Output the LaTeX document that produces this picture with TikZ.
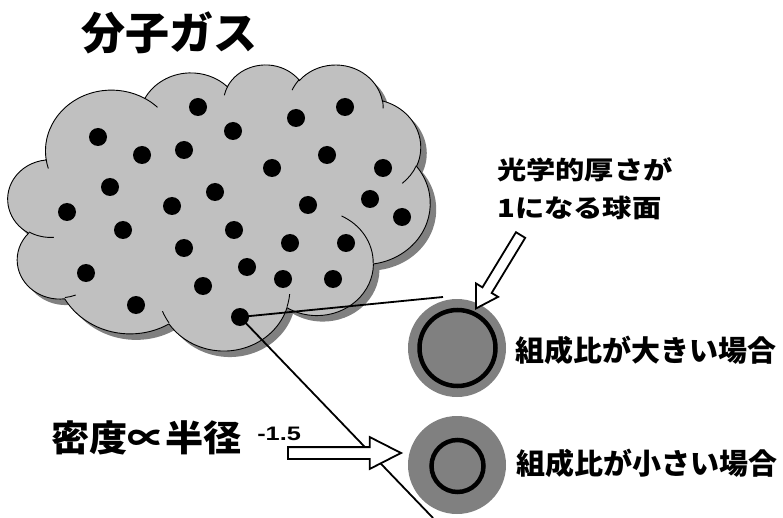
\documentclass[tikz,border=0pt]{standalone}
\usepackage{fontspec}
\usetikzlibrary{shapes.arrows}
\newfontfamily\jpfont{Noto Sans CJK JP}
\newfontfamily\latinfont{Liberation Sans}
\definecolor{cloudgray}{RGB}{192,192,192}
\definecolor{shadegray}{RGB}{128,128,128}
\definecolor{spheregray}{RGB}{128,128,128}

% Elliptic arcs of the cloud outline: from the radii and the visual start
% angle and sweep, store the parametric start angle and sweep.
\newcommand\cloudarcset[5]{%
  \pgfmathsetmacro\cloudtmpa{atan2((#2)*sin(#4),(#3)*cos(#4))}%
  \pgfmathsetmacro\cloudtmpb{atan2((#2)*sin((#4)+(#5)),(#3)*cos((#4)+(#5)))}%
  \pgfmathsetmacro\cloudtmpd{mod(\cloudtmpb-\cloudtmpa+720,360)}%
  \expandafter\let\csname cloudS#1\endcsname\cloudtmpa
  \expandafter\let\csname cloudD#1\endcsname\cloudtmpd
}
% outline bumps
\cloudarcset{a}{67.53}{91.90}{-190.4875}{123.7805}
\cloudarcset{b}{53.33}{72.67}{-144.1024}{89.9452}
\cloudarcset{c}{43.65}{59.45}{-145.8079}{99.7230}
\cloudarcset{d}{48.57}{65.95}{-130.9861}{117.2417}
\cloudarcset{e}{53.33}{72.73}{-78.7089}{109.0269}
\cloudarcset{f}{67.75}{92.20}{-46.2673}{130.2690}
\cloudarcset{g}{57.85}{78.67}{0.6250}{114.0333}
\cloudarcset{h}{67.52}{92.15}{22.4516}{115.1726}
\cloudarcset{i}{77.20}{105.43}{66.2426}{75.7110}
\cloudarcset{j}{43.60}{59.18}{-274.9421}{146.7356}
\cloudarcset{k}{43.45}{59.45}{-246.8285}{152.5170}
% inner creases
\cloudarcset{ia}{43.45}{59.45}{86.7420}{26.4295}
\cloudarcset{ib}{43.60}{59.18}{73.6105}{11.4475}
\cloudarcset{ic}{67.52}{92.15}{137.6242}{14.0811}
\cloudarcset{id}{67.52}{92.15}{6.4533}{15.9984}
\cloudarcset{ie}{57.85}{78.67}{-70.2924}{70.9174}
\cloudarcset{if}{53.33}{72.73}{30.3180}{27.7515}
\cloudarcset{ig}{48.57}{65.95}{-13.7443}{14.8589}
\cloudarcset{ih}{48.57}{65.95}{-149.1815}{18.1954}
\cloudarcset{ii}{43.65}{59.45}{-163.4943}{17.6864}
\cloudarcset{ij}{67.53}{91.90}{-66.7070}{12.3194}
\cloudarcset{ik}{67.53}{91.90}{157.6544}{11.8582}

\tikzset{
  cloud path/.style={insert path={(39.00,143.70)
    arc[start angle=\cloudSa,delta angle=\cloudDa,x radius=67.53,y radius=91.90]
    arc[start angle=\cloudSb,delta angle=\cloudDb,x radius=53.33,y radius=72.67]
    arc[start angle=\cloudSc,delta angle=\cloudDc,x radius=43.65,y radius=59.45]
    arc[start angle=\cloudSd,delta angle=\cloudDd,x radius=48.57,y radius=65.95]
    arc[start angle=\cloudSe,delta angle=\cloudDe,x radius=53.33,y radius=72.73]
    arc[start angle=\cloudSf,delta angle=\cloudDf,x radius=67.75,y radius=92.20]
    arc[start angle=\cloudSg,delta angle=\cloudDg,x radius=57.85,y radius=78.67]
    arc[start angle=\cloudSh,delta angle=\cloudDh,x radius=67.52,y radius=92.15]
    arc[start angle=\cloudSi,delta angle=\cloudDi,x radius=77.20,y radius=105.43]
    arc[start angle=\cloudSj,delta angle=\cloudDj,x radius=43.60,y radius=59.18]
    arc[start angle=\cloudSk,delta angle=\cloudDk,x radius=43.45,y radius=59.45]
    -- cycle}},
  crease/.style={draw=black, line width=0.9pt},
  molecule/.style={circle, fill=black, inner sep=0pt, minimum size=18pt},
  sphere/.style={circle, fill=spheregray, inner sep=0pt, minimum size=98pt},
  tauring/.style={circle, draw=black, line width=4.5pt, inner sep=0pt},
  sightline/.style={draw=black, line width=1.8pt},
  hollowarrow/.style={single arrow, draw=black, fill=white, line width=1.8pt,
    inner xsep=0pt, anchor=tip},
  label/.style={font=\jpfont\bfseries\fontsize{29}{32}\selectfont, inner sep=0pt, anchor=west},
}

\begin{document}
\begin{tikzpicture}[x=1pt,y=-1pt]
\useasboundingbox (0,0) rectangle (783,518);

% the molecular cloud: shadow, body and inner creases
\begin{scope}[shift={(8,64)}]
\begin{scope}[x=0.977pt,y=-0.662pt]
  \fill[shadegray, xshift=6pt, yshift=-6pt, cloud path];
  \filldraw[fill=cloudgray, draw=black, line width=0.9pt, cloud path];
  \draw[crease] (46.93,261.77) arc[start angle=\cloudSia,delta angle=\cloudDia,x radius=43.45,y radius=59.45];
  \draw[crease] (69.28,348.99) arc[start angle=\cloudSib,delta angle=\cloudDib,x radius=43.60,y radius=59.18];
  \draw[crease] (164.78,390.90) arc[start angle=\cloudSic,delta angle=\cloudDic,x radius=67.52,y radius=92.15];
  \draw[crease] (288.27,347.51) arc[start angle=\cloudSid,delta angle=\cloudDid,x radius=67.52,y radius=92.15];
  \draw[crease] (341.29,229.54) arc[start angle=\cloudSie,delta angle=\cloudDie,x radius=57.85,y radius=78.67];
  \draw[crease] (417.98,153.54) arc[start angle=\cloudSif,delta angle=\cloudDif,x radius=53.33,y radius=72.73];
  \draw[crease] (383.24,54.26) arc[start angle=\cloudSig,delta angle=\cloudDig,x radius=48.57,y radius=65.95];
  \draw[crease] (290.78,39.52) arc[start angle=\cloudSih,delta angle=\cloudDih,x radius=48.57,y radius=65.95];
  \draw[crease] (221.41,47.20) arc[start angle=\cloudSii,delta angle=\cloudDii,x radius=43.65,y radius=59.45];
  \draw[crease] (140.00,51.92) arc[start angle=\cloudSij,delta angle=\cloudDij,x radius=67.53,y radius=91.90];
  \draw[crease] (41.27,157.89) arc[start angle=\cloudSik,delta angle=\cloudDik,x radius=67.53,y radius=91.90];
\end{scope}
\end{scope}

% molecules
\foreach \px/\py [count=\n] in {198/107,345/107,296/118,98/137,233/131,142/155,184/150,
    327/155,272/168,383/168,110/187,215/192,370/199,67/212,172/206,308/205,402/217,
    123/230,234/230,184/248,290/243,346/243,86/273,247/267,203/286,283/279,333/279,
    136/305,240/317}
  \node[molecule] (m\n) at (\px,\py) {};

% title
\node[font=\jpfont\bfseries\fontsize{44}{48}\selectfont, inner sep=0pt] (title) at (169,33) {分子ガス};

% spheres with the optical-depth-one surface
\node[sphere] (sphereA) at (457,348) {};
\node[tauring, minimum size=76pt] (ringA) at (457.5,348) {};
\node[sphere] (sphereB) at (457,465) {};
\node[tauring, minimum size=52pt] (ringB) at (457.5,466) {};

% sight lines from one molecule
\coordinate (endA) at (443,297);
\coordinate (endB) at (433,518);
\draw[sightline] (m29.center) -- (endA);
\draw[sightline] (m29.center) -- (endB);

% labels
\node[label] (bigratio) at (515,350) {組成比が大きい場合};
\node[label] (smallratio) at (516,463) {組成比が小さい場合};
\node[label, font=\jpfont\bfseries\fontsize{25}{28}\selectfont, xscale=1.17] (tauA) at (497,170) {光学的厚さが};
\node[label, font=\jpfont\bfseries\fontsize{25}{28}\selectfont, xscale=1.17] (tauB) at (497,208) {1になる球面};
\node[label, font=\jpfont\bfseries\fontsize{36}{40}\selectfont, xscale=1.06] (density) at (51,438) {密度∝半径};
\node[label, font=\latinfont\bfseries\fontsize{19.5}{22}\selectfont, xscale=1.3] (power) at (257,434) {-1.5};

% hollow arrows
\node[hollowarrow, inner ysep=4.5pt, single arrow head extend=7.5pt,
  single arrow tip angle=62, minimum height=86pt, rotate=-121.3] (pointer) at (475,310) {};
\node[hollowarrow, inner ysep=5pt, single arrow head extend=10pt,
  single arrow tip angle=54, minimum height=113pt] (trend) at (403,453) {};
\end{tikzpicture}
\end{document}
